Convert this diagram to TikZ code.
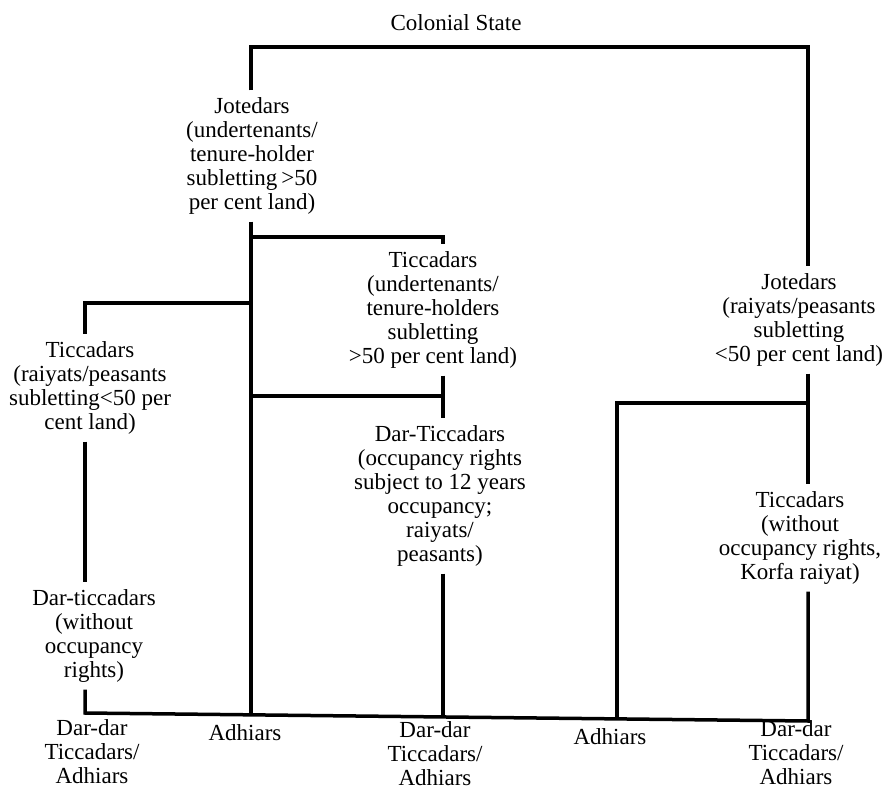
\documentclass[tikz,border=0pt]{standalone}
\usepackage{fontspec}
\setmainfont{Liberation Serif}
\begin{document}
\begin{tikzpicture}[x=1pt,y=-1pt,
  every node/.style={font=\fontsize{23}{24}\selectfont},
  lbl/.style={align=center, inner xsep=2pt, inner ysep=7pt},
  bot/.style={align=center, inner sep=0pt},
  link/.style={line width=3.5pt, line join=miter}]
\useasboundingbox (0,0) rectangle (886,791);
% nodes
\node[lbl] (cs) at (456,23) {Colonial State};
\node[lbl] (J1) at (252,156) {Jotedars\\(undertenants/\\tenure-holder\\subletting\,>50\\per cent land)};
\node[lbl] (T1) at (433,310) {Ticcadars\\(undertenants/\\tenure-holders\\subletting\\>50 per cent land)};
\node[lbl] (T2) at (90,388) {Ticcadars\\(raiyats/peasants\\subletting<50 per\\cent land)};
\node[lbl] (D1) at (440,496) {Dar-Ticcadars\\(occupancy rights\\subject to 12 years\\occupancy;\\raiyats/\\peasants)};
\node[lbl] (D2) at (94,636) {Dar-ticcadars\\(without\\occupancy\\rights)};
\node[lbl] (J2) at (799,320) {Jotedars\\(raiyats/peasants\\subletting\\<50 per cent land)};
\node[lbl] (T3) at (800,538) {Ticcadars\\(without\\occupancy rights,\\Korfa raiyat)};
\node[bot] (L1) at (92,752) {Dar-dar\\Ticcadars/\\Adhiars};
\node[bot] (L2) at (245,733) {Adhiars};
\node[bot] (L3) at (435,754) {Dar-dar\\Ticcadars/\\Adhiars};
\node[bot] (L4) at (610,737) {Adhiars};
\node[bot] (L5) at (796,753) {Dar-dar\\Ticcadars/\\Adhiars};
% helper coordinates
\coordinate (tl) at (251,47);
\coordinate (tr) at (808,47);
\coordinate (xj) at (251,0);
\coordinate (xm) at (443,0);
\coordinate (xl) at (85,0);
\coordinate (xr) at (808,0);
\coordinate (xa) at (617,0);
\coordinate (h1) at (0,237);
\coordinate (h2) at (0,303);
\coordinate (h3) at (0,396);
\coordinate (h4) at (0,403);
\coordinate (bl) at (85,713);
\coordinate (br) at (808,721);
\coordinate (b1) at (251,714.8);
\coordinate (b2) at (443,717);
\coordinate (b3) at (617,718.9);
% connectors
\draw[link] (J1.north -| tl) -- (tl) -- (tr) -- (J2.north -| tr);
\draw[link] (J1.south -| xj) -- (b1);
\draw[link] (xj |- h1) -- (xm |- h1) -- (T1.north -| xm);
\draw[link] (T1.south -| xm) -- (D1.north -| xm);
\draw[link] (xj |- h3) -- (xm |- h3);
\draw[link] (D1.south -| xm) -- (b2);
\draw[link] (xj |- h2) -- (xl |- h2) -- (T2.north -| xl);
\draw[link] (T2.south -| xl) -- (D2.north -| xl);
\draw[link] (D2.south -| xl) -- (bl) -- (br) -- (T3.south -| xr);
\draw[link] (J2.south -| xr) -- (T3.north -| xr);
\draw[link] (xr |- h4) -- (xa |- h4) -- (b3);
\end{tikzpicture}
\end{document}
